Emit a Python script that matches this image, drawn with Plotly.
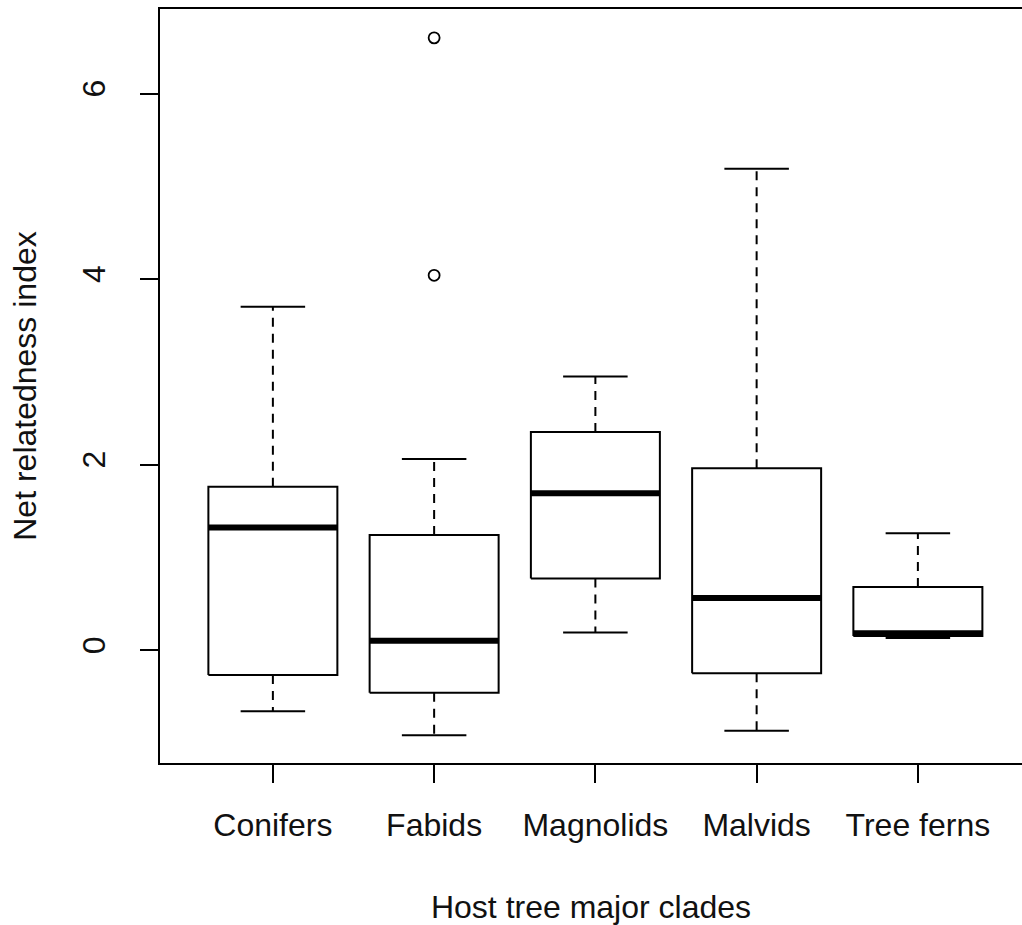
import plotly.graph_objects as go

categories = ["Conifers", "Fabids", "Magnolids", "Malvids", "Tree ferns"]
lower_whisker = [-0.66, -0.92, 0.19, -0.87, 0.13]
q1_values = [-0.27, -0.46, 0.77, -0.25, 0.15]
median_values = [1.32, 0.10, 1.69, 0.56, 0.18]
q3_values = [1.76, 1.24, 2.35, 1.96, 0.68]
upper_whisker = [3.70, 2.06, 2.95, 5.19, 1.26]
outlier_category = ["Fabids", "Fabids"]
outlier_values = [6.60, 4.04]
y_tick_values = [0, 2, 4, 6]

BOX_HALF = 0.4
CAP_HALF = 0.2

pos = {c: i + 1 for i, c in enumerate(categories)}

wx, wy = [], []
cx, cy = [], []
bx, by = [], []
mx, my = [], []
for i, c in enumerate(categories):
    p = pos[c]
    wx += [p, p, None, p, p, None]
    wy += [q3_values[i], upper_whisker[i], None, q1_values[i], lower_whisker[i], None]
    cx += [p - CAP_HALF, p + CAP_HALF, None, p - CAP_HALF, p + CAP_HALF, None]
    cy += [upper_whisker[i], upper_whisker[i], None, lower_whisker[i], lower_whisker[i], None]
    bx += [p - BOX_HALF, p + BOX_HALF, p + BOX_HALF, p - BOX_HALF, p - BOX_HALF, None]
    by += [q1_values[i], q1_values[i], q3_values[i], q3_values[i], q1_values[i], None]
    mx += [p - BOX_HALF, p + BOX_HALF, None]
    my += [median_values[i], median_values[i], None]

fig = go.Figure()
fig.add_trace(go.Scatter(x=wx, y=wy, mode="lines", line=dict(color="black", width=2, dash="9px,7px"),
                         hoverinfo="skip", showlegend=False))
fig.add_trace(go.Scatter(x=cx, y=cy, mode="lines", line=dict(color="black", width=2),
                         hoverinfo="skip", showlegend=False))
fig.add_trace(go.Scatter(x=bx, y=by, mode="lines", line=dict(color="black", width=2),
                         hoverinfo="skip", showlegend=False))
fig.add_trace(go.Scatter(x=mx, y=my, mode="lines", line=dict(color="black", width=6),
                         hoverinfo="skip", showlegend=False))
fig.add_trace(go.Scatter(x=[pos[c] for c in outlier_category], y=outlier_values, mode="markers",
                         marker=dict(symbol="circle-open", size=11, color="black", line=dict(width=1.8)),
                         showlegend=False))

font_family = "Liberation Sans, Arial, sans-serif"
fig.update_layout(
    width=1022, height=925,
    margin=dict(l=160, r=0, t=9, b=162),
    paper_bgcolor="white", plot_bgcolor="white",
    font=dict(family=font_family, size=32, color="#111"),
    xaxis=dict(
        range=[0.3, 0.3 + 862 / 161.25],
        tickvals=[pos[c] for c in categories], ticktext=categories,
        ticks="outside", ticklen=18, tickwidth=1.5, tickcolor="black",
        showline=True, linecolor="black", linewidth=2, mirror=True,
        showgrid=False, zeroline=False,
        ticklabelstandoff=15,
        tickfont=dict(size=32),
        title=dict(text="Host tree major clades", font=dict(size=32), standoff=53),
    ),
    yaxis=dict(
        range=[-1.218, 6.911],
        tickvals=y_tick_values, ticktext=[str(v) for v in y_tick_values],
        ticks="outside", ticklen=18, tickwidth=1.5, tickcolor="black",
        showline=True, linecolor="black", linewidth=2, mirror=False,
        showgrid=False, zeroline=False,
        tickangle=-90, ticklabelstandoff=22,
        tickfont=dict(size=32),
        title=dict(text="Net relatedness index", font=dict(size=32), standoff=30),
    ),
)

fig.write_html(
    "out.html",
    config={"displayModeBar": False},
    post_script="document.body.style.margin='0';document.body.style.overflow='hidden';window.dispatchEvent(new Event('resize'));",
)
